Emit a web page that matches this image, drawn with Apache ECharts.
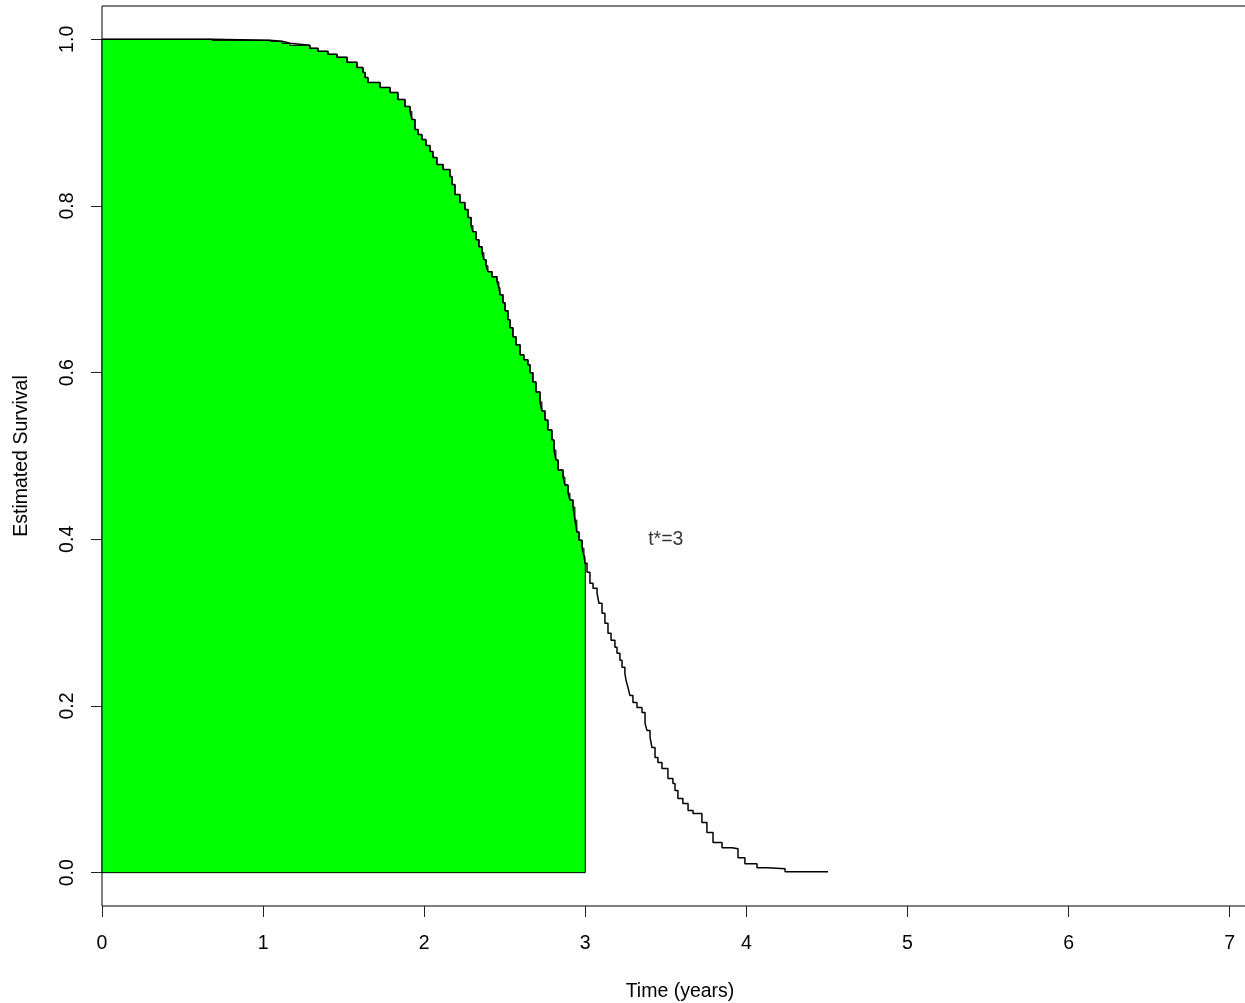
<!DOCTYPE html>
<html>
<head>
<meta charset="utf-8">
<title>Estimated Survival</title>
<script src="https://cdn.jsdelivr.net/npm/echarts@6/dist/echarts.min.js"></script>
<style>
  html, body { margin: 0; padding: 0; background: #fff; }
  #chart { width: 1245px; height: 1003px; }
</style>
</head>
<body>
<div id="chart"></div>
<script>
// Kaplan-Meier step curve: time (years) at which each step occurs, and survival after it
const stepTimes = [
  0, 0.683, 1.043, 1.117, 1.167, 1.291, 1.341, 1.403, 1.459, 1.521,
  1.583, 1.620, 1.633, 1.651, 1.726, 1.788, 1.837, 1.881, 1.912, 1.924,
  1.943, 1.962, 1.986, 2.011, 2.036, 2.055, 2.079, 2.117, 2.160, 2.173,
  2.191, 2.222, 2.253, 2.272, 2.291, 2.303, 2.322, 2.340, 2.359, 2.371,
  2.384, 2.396, 2.421, 2.452, 2.464, 2.471, 2.489, 2.502, 2.520, 2.533,
  2.551, 2.570, 2.595, 2.619, 2.644, 2.657, 2.675, 2.694, 2.719, 2.731,
  2.750, 2.768, 2.793, 2.806, 2.818, 2.831, 2.862, 2.874, 2.893, 2.905,
  2.924, 2.936, 2.948, 2.961, 2.980, 2.992, 2.998, 3.011, 3.029, 3.048,
  3.073, 3.085, 3.104, 3.122, 3.141, 3.160, 3.184, 3.197, 3.215, 3.228,
  3.246, 3.253, 3.265, 3.277, 3.296, 3.321, 3.352, 3.371, 3.383, 3.402,
  3.414, 3.433, 3.451, 3.476, 3.513, 3.544, 3.557, 3.575, 3.606, 3.638,
  3.669, 3.724, 3.755, 3.793, 3.849, 3.911, 3.948, 3.991, 4.066, 4.134,
  4.240, 4.507];
const survival = [
  1.000, 0.9988, 0.9976, 0.9952, 0.9928, 0.9892, 0.9856, 0.9820, 0.9784, 0.9724,
  0.9663, 0.9603, 0.9543, 0.9483, 0.9423, 0.9363, 0.9279, 0.9195, 0.9135, 0.9038,
  0.8918, 0.8858, 0.8798, 0.8726, 0.8654, 0.8582, 0.8498, 0.8438, 0.8353, 0.8257,
  0.8137, 0.8041, 0.7957, 0.7861, 0.7764, 0.7692, 0.7596, 0.7512, 0.7440, 0.7356,
  0.7284, 0.7212, 0.7151, 0.7091, 0.7019, 0.6935, 0.6839, 0.6743, 0.6635, 0.6538,
  0.6430, 0.6334, 0.6214, 0.6154, 0.6094, 0.5998, 0.5889, 0.5769, 0.5649, 0.5541,
  0.5433, 0.5313, 0.5192, 0.5072, 0.4952, 0.4832, 0.4748, 0.4651, 0.4555, 0.4471,
  0.4387, 0.4231, 0.4087, 0.3990, 0.3894, 0.3798, 0.3714, 0.3606, 0.3474, 0.3413,
  0.3353, 0.3233, 0.3113, 0.2993, 0.2873, 0.2788, 0.2704, 0.2632, 0.2548, 0.2464,
  0.2392, 0.2308, 0.2224, 0.2127, 0.2043, 0.1983, 0.1923, 0.1791, 0.1707, 0.1623,
  0.1502, 0.1382, 0.1322, 0.1250, 0.1130, 0.1070, 0.0986, 0.0889, 0.0829, 0.0745,
  0.0709, 0.0601, 0.0481, 0.0361, 0.0300, 0.0288, 0.0180, 0.0108, 0.0060, 0.0048,
  0.0012, 0.0012];

// restriction time: area under the curve up to t* is shaded
const tStar = 3;
const noteX = [3.5];
const noteY = [0.4];
const noteText = ['t*=3'];

// tick labels
const xTicks = [0, 1, 2, 3, 4, 5, 6, 7];
const yTicks = [0, 0.2, 0.4, 0.6, 0.8, 1.0];

const FONT = 'Liberation Sans, Arial, sans-serif';
const FS = 19.5;
const TXT = '#000';

const chart = echarts.init(document.getElementById('chart'), null, { renderer: 'canvas' });

const curveData = stepTimes.map((t, i) => [t, survival[i]]);

chart.setOption({
  animation: false,
  backgroundColor: '#ffffff',
  grid: {
    left: 102, top: 6, width: 1156, height: 900,
    outerBoundsMode: 'none', containLabel: false,
    show: true, borderColor: '#000', borderWidth: 1, backgroundColor: 'transparent'
  },
  xAxis: {
    type: 'value', min: 0, max: 7.176, position: 'bottom',
    name: 'Time (years)', nameLocation: 'middle', nameGap: 76,
    nameTextStyle: { fontFamily: FONT, fontSize: FS, color: TXT },
    axisLine: { show: false, onZero: false },
    axisTick: { show: true, length: 11, lineStyle: { color: '#222', width: 1 }, customValues: xTicks },
    axisLabel: { show: true, margin: 28, fontFamily: FONT, fontSize: FS, color: TXT, customValues: xTicks },
    splitLine: { show: false }
  },
  yAxis: {
    type: 'value', min: -0.04, max: 1.04, position: 'left',
    name: 'Estimated Survival', nameLocation: 'middle', nameGap: 70, nameRotate: 90,
    nameTextStyle: { fontFamily: FONT, fontSize: FS, color: TXT },
    axisLine: { show: false, onZero: false },
    axisTick: { show: true, length: 11, lineStyle: { color: '#222', width: 1 }, customValues: yTicks },
    axisLabel: {
      show: true, rotate: 90, margin: 24, fontFamily: FONT, fontSize: FS, color: TXT,
      customValues: yTicks, formatter: v => v.toFixed(1)
    },
    splitLine: { show: false }
  },
  series: [
    {
      // shaded restricted area under the curve from 0 to t*
      type: 'custom',
      data: [[0, 0]],
      z: 1,
      renderItem: function (params, api) {
        const pts = [api.coord([0, 0])];
        let last = 0;
        for (let i = 0; i < stepTimes.length && stepTimes[i] <= tStar; i++) {
          if (i > 0) pts.push(api.coord([stepTimes[i], survival[i - 1]]));
          pts.push(api.coord([stepTimes[i], survival[i]]));
          last = i;
        }
        pts.push(api.coord([tStar, survival[last]]));
        pts.push(api.coord([tStar, 0]));
        return {
          type: 'polygon',
          shape: { points: pts },
          style: { fill: '#00ff00', stroke: '#000', lineWidth: 1 }
        };
      }
    },
    {
      type: 'line',
      data: curveData,
      step: 'end',
      showSymbol: false,
      z: 3,
      lineStyle: { color: '#000', width: 1.5 }
    },
    {
      type: 'scatter',
      data: noteX.map((x, i) => [x, noteY[i]]),
      symbolSize: 0,
      z: 4,
      label: {
        show: true, position: 'inside',
        formatter: p => noteText[p.dataIndex],
        fontFamily: FONT, fontSize: FS, color: TXT
      }
    }
  ]
});
</script>
</body>
</html>
